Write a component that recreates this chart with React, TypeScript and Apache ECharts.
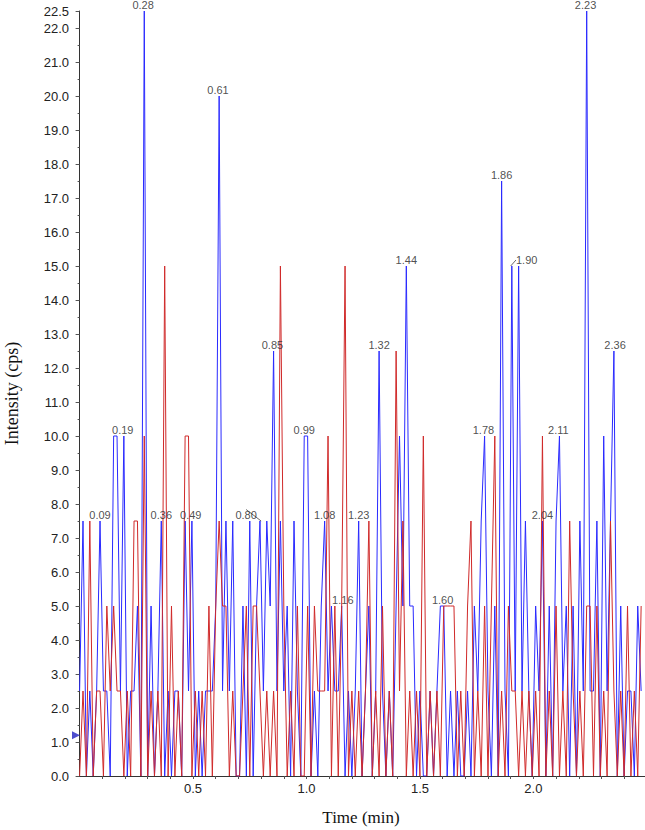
import React, { useEffect, useRef } from "react";
import * as echarts from "echarts";

// Sampling interval of the two traces (min)
const TIME_STEP = 0.015;

// Blue trace intensities (cps), one per sample
const blueValues = [
  2.5, 7.5, 0, 2.5, 0, 2.5, 7.5, 2.5, 2.5, 0,
  10, 10, 2.5, 10, 0, 2.5, 2.5, 5, 0, 22.5,
  0, 5, 0, 2.5, 7.5, 0, 2.5, 0, 2.5, 2.5,
  0, 7.5, 2.5, 7.5, 0, 2.5, 0, 2.5, 2.5, 2.5,
  5, 20, 2.5, 7.5, 2.5, 7.5, 0, 0, 5, 0,
  7.5, 0, 5, 7.5, 2.5, 7.5, 5, 12.5, 2.5, 7.5,
  2.5, 5, 0, 7.5, 2.5, 0, 10, 10, 0, 2.5,
  0, 5, 7.5, 2.5, 5, 2.5, 2.5, 5, 0, 2.5,
  0, 2.5, 7.5, 0, 2.5, 5, 0, 2.5, 12.5, 2.5,
  0, 2.5, 0, 5, 10, 5, 15, 5, 5, 0,
  2.5, 0, 0, 2.5, 0, 2.5, 5, 5, 0, 2.5,
  0, 2.5, 0, 0, 2.5, 0, 5, 2.5, 7.5, 10,
  2.5, 0, 5, 0, 17.5, 2.5, 0, 15, 2.5, 15,
  2.5, 7.5, 2.5, 0, 5, 2.5, 7.5, 0, 5, 0,
  7.5, 10, 2.5, 5, 0, 5, 0, 7.5, 2.5, 22.5,
  2.5, 2.5, 7.5, 0, 10, 2.5, 7.5, 12.5, 0, 5,
  0, 2.5, 2.5, 0, 5, 2.5,
];

// Red trace intensities (cps), one per sample
const redValues = [
  0, 2.5, 0, 7.5, 0, 2.5, 2.5, 0, 5, 2.5,
  5, 2.5, 2.5, 0, 2.5, 0, 7.5, 7.5, 0, 10,
  0, 2.5, 0, 2.5, 0, 15, 0, 5, 0, 2.5,
  0, 10, 10, 0, 2.5, 0, 2.5, 0, 5, 0,
  5, 7.5, 5, 5, 0, 2.5, 0, 0, 2.5, 5,
  0, 5, 5, 2.5, 0, 2.5, 0, 2.5, 0, 15,
  5, 0, 2.5, 0, 5, 0, 0, 5, 0, 5,
  2.5, 2.5, 2.5, 10, 0, 5, 0, 5, 15, 0,
  2.5, 0, 2.5, 0, 2.5, 7.5, 0, 2.5, 0, 5,
  0, 2.5, 0, 12.5, 2.5, 7.5, 0, 2.5, 0, 2.5,
  0, 10, 0, 2.5, 0, 2.5, 0, 5, 5, 5,
  5, 0, 2.5, 0, 5, 7.5, 0, 2.5, 0, 5,
  0, 5, 10, 0, 2.5, 0, 5, 2.5, 2.5, 0,
  2.5, 0, 2.5, 0, 2.5, 0, 10, 0, 2.5, 0,
  5, 0, 2.5, 0, 7.5, 2.5, 0, 2.5, 0, 5,
  5, 0, 5, 0, 2.5, 0, 7.5, 2.5, 0, 2.5,
  0, 5, 0, 2.5, 0, 5,
];

// Peak annotations (retention time labels)
const peakTimes = [0.09, 0.19, 0.28, 0.36, 0.49, 0.61, 0.80, 0.85, 0.99, 1.08, 1.16, 1.23, 1.32, 1.44, 1.60, 1.78, 1.86, 1.90, 2.04, 2.11, 2.23, 2.36];
const peakHeights = [7.5, 10, 22.5, 7.5, 7.5, 20, 7.5, 12.5, 10, 7.5, 5, 7.5, 12.5, 15, 5, 10, 17.5, 15, 7.5, 10, 22.5, 12.5];
const peakLabels = ["0.09", "0.19", "0.28", "0.36", "0.49", "0.61", "0.80", "0.85", "0.99", "1.08", "1.16", "1.23", "1.32", "1.44", "1.60", "1.78", "1.86", "1.90", "2.04", "2.11", "2.23", "2.36"];
const peakShift = [0, 0, 0, 0, 0, 0, -15, 0, 0, 0, 0, 0, 0, 0, 0, 0, 0, 16, 0, 0, 0, 0];

// Threshold marker on the intensity axis
const thresholdValue = 1.2;

// Axes
const X_MIN = -0.0115;
const X_MAX = 2.492;
const Y_MIN = 0;
const Y_MAX = 22.5;
const xLabelValues = [0.5, 1.0, 1.5, 2.0];
const xTickValues = [0.1, 0.2, 0.3, 0.4, 0.5, 0.6, 0.7, 0.8, 0.9, 1.0, 1.1, 1.2, 1.3, 1.4, 1.5, 1.6, 1.7, 1.8, 1.9, 2.0, 2.1, 2.2, 2.3, 2.4];

const BLUE = "#2a2aff";
const RED = "#d02a2a";

export default function App() {
  const ref = useRef<HTMLDivElement>(null);

  useEffect(() => {
    if (!ref.current) return;
    const chart = echarts.init(ref.current, undefined, { renderer: "svg" });
    const blueData = blueValues.map((v, i) => [+(i * TIME_STEP).toFixed(4), v]);
    const redData = redValues.map((v, i) => [+(i * TIME_STEP).toFixed(4), v]);
    const peakData = peakTimes.map((t, i) => ({
      value: [t, peakHeights[i]],
      labelLine: { show: peakShift[i] !== 0 },
    }));

    const axisColor = "#333";
    const sans = "'Liberation Sans', Arial, sans-serif";
    const serif = "'Liberation Serif', 'Times New Roman', serif";

    chart.setOption({
      animation: false,
      grid: {
        left: 77,
        right: 0,
        top: 11,
        bottom: 54,
        containLabel: false,
        outerBoundsMode: "none",
      },
      xAxis: {
        type: "value",
        min: X_MIN,
        max: X_MAX,
        name: "Time (min)",
        nameLocation: "middle",
        nameGap: 33,
        nameTextStyle: { fontFamily: serif, fontSize: 17, color: "#111" },
        axisLine: { show: true, onZero: false, lineStyle: { color: axisColor, width: 1 } },
        axisTick: { show: true, customValues: xTickValues, length: 3, lineStyle: { color: "#555" } },
        axisLabel: {
          customValues: xLabelValues,
          formatter: (v: number) => v.toFixed(1),
          fontFamily: sans,
          fontSize: 13,
          color: "#222",
          margin: 6,
        },
        splitLine: { show: false },
      },
      yAxis: {
        type: "value",
        min: Y_MIN,
        max: Y_MAX,
        interval: 1,
        name: "Intensity (cps)",
        nameLocation: "middle",
        nameGap: 56,
        nameTextStyle: { fontFamily: serif, fontSize: 18, color: "#111" },
        axisLine: { show: true, lineStyle: { color: axisColor, width: 1 } },
        axisTick: { show: true, length: 4, lineStyle: { color: "#555" } },
        minorTick: { show: true, splitNumber: 2, length: 2, lineStyle: { color: "#555" } },
        axisLabel: {
          formatter: (v: number) => v.toFixed(1),
          fontFamily: sans,
          fontSize: 13,
          color: "#222",
          margin: 8,
          showMaxLabel: true,
          showMinLabel: true,
        },
        splitLine: { show: false },
      },
      series: [
        {
          type: "line",
          name: "blue",
          data: blueData,
          showSymbol: false,
          symbol: "none",
          lineStyle: { color: BLUE, width: 1 },
          z: 2,
        },
        {
          type: "line",
          name: "red",
          data: redData,
          showSymbol: false,
          symbol: "none",
          lineStyle: { color: RED, width: 1 },
          z: 3,
        },
        {
          type: "scatter",
          name: "peaks",
          data: peakData,
          symbolSize: 0,
          silent: true,
          z: 5,
          label: {
            show: true,
            position: "top",
            distance: 1,
            lineHeight: 10,
            formatter: (p: any) => peakLabels[p.dataIndex],
            fontFamily: sans,
            fontSize: 11,
            color: "#222",
          },
          labelLayout: (p: any) => ({ dx: peakShift[p.dataIndex] }),
          labelLine: { show: false, lineStyle: { color: "#444", width: 0.8 } },
        },
        {
          type: "scatter",
          name: "threshold",
          data: [[X_MIN, thresholdValue]],
          symbol: "triangle",
          symbolRotate: -90,
          symbolSize: 8,
          symbolOffset: [-1, 0],
          clip: false,
          itemStyle: { color: "#2020c0" },
          silent: true,
          z: 6,
        },
      ],
    });
    return () => chart.dispose();
  }, []);

  return (
    <div
      ref={ref}
      style={{ position: "absolute", left: 0, top: 0, width: 645, height: 830, background: "#fff" }}
    />
  );
}
